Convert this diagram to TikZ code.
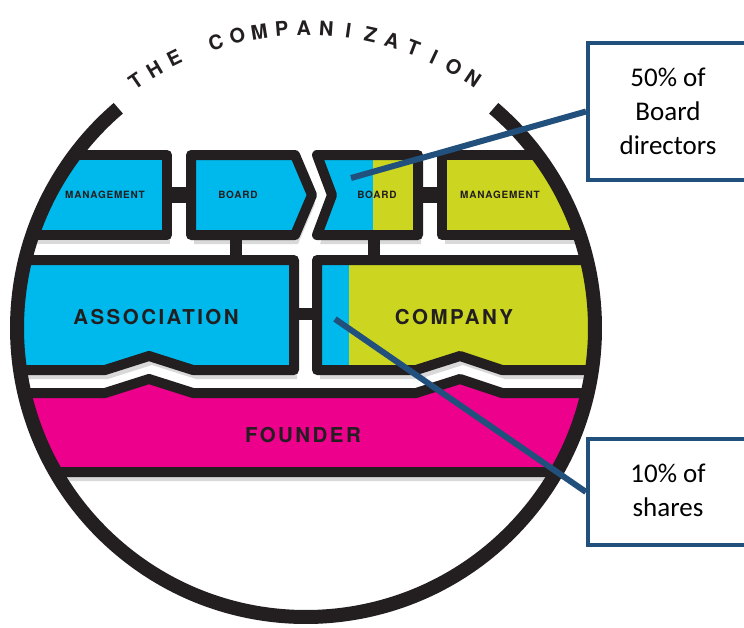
\documentclass[tikz,border=0pt]{standalone}
\usepackage{fontspec}
\usepackage{tikz}
\usetikzlibrary{positioning,shadows}
\usepackage{xcolor}
\newfontfamily\labelfont[LetterSpace=12]{TeX Gyre Heros}
\newfontfamily\smallfont[LetterSpace=8]{TeX Gyre Heros}
\newfontfamily\calloutfont{Carlito}
\definecolor{cpcyan}{RGB}{0,185,236}
\definecolor{cplime}{RGB}{204,214,32}
\definecolor{cpmagenta}{RGB}{236,0,140}
\definecolor{cpblack}{RGB}{35,31,32}
\definecolor{cpnavy}{RGB}{34,80,124}

\begin{document}
\begin{tikzpicture}[x=1pt,y=-1pt,
    part/.style={draw=cpblack,line width=10pt,line join=round,
      drop shadow={shadow xshift=3pt,shadow yshift=-9pt,opacity=.3}},
    big/.style={font=\labelfont\bfseries\fontsize{20.5}{24}\selectfont,text=cpblack},
    small/.style={font=\smallfont\bfseries\fontsize{10}{12}\selectfont,text=cpblack},
    title/.style={font=\labelfont\bfseries\fontsize{20}{24}\selectfont,text=cpblack},
    callout/.style={draw=cpnavy,line width=4pt,fill=white,minimum width=200pt,anchor=west},
    note/.style={font=\calloutfont\fontsize{27}{34}\selectfont,align=center},
    pointer/.style={draw=cpnavy,line width=6pt}]
  \useasboundingbox (0,0) rectangle (744,627);
  \coordinate (ctr) at (306,328);

  \begin{scope}
    \clip (ctr) circle[radius=289];
    \path[part,fill=cpcyan] (-10,155) -- (167,155) -- (167,235) -- (-10,235) -- cycle;
    \path[part,fill=cpcyan] (191,155) -- (295,155) -- (312,195) -- (295,235) -- (191,235) -- cycle;
    \path[part,fill=cplime,path picture={\fill[cpcyan] (path picture bounding box.north west) rectangle (373,250);}]
      (317,155) -- (418,155) -- (418,235) -- (317,235) -- (332,195) -- cycle;
    \path[part,fill=cplime] (442,155) -- (620,155) -- (620,235) -- (442,235) -- cycle;
    \path[part,fill=cpcyan] (-10,260) -- (294,260) -- (294,370) -- (193,370) -- (149,356)
      -- (105,370) -- (-10,370) -- cycle;
    \path[part,fill=cplime,path picture={\fill[cpcyan] (path picture bounding box.north west) rectangle (349,380);}]
      (317,260) -- (620,260) -- (620,370) -- (502,370) -- (460,356) -- (416,370) -- (317,370) -- cycle;
    \path[part,fill=cpmagenta] (-10,393) -- (105,393) -- (149,379) -- (193,393) -- (416,393)
      -- (460,379) -- (502,393) -- (620,393) -- (620,472) -- (-10,472) -- cycle;
    \fill[cpblack] (167,187) rectangle (191,203);
    \fill[cpblack] (418,187) rectangle (442,203);
    \fill[cpblack] (294,308) rectangle (317,320);
    \fill[cpblack] (230,235) rectangle (242,260);
    \fill[cpblack] (368,235) rectangle (380,260);
  \end{scope}
  \draw[cpblack,line width=14pt] ([shift={(-49.5:289)}]ctr) arc[start angle=-49.5,end angle=229.5,radius=289];

  \foreach \ch [count=\i] in {T,H,E,{},C,O,M,P,A,N,I,Z,A,T,I,O,N}{
    \pgfmathsetmacro\ang{-124.6+4.275*(\i-1)}
    \node[title,rotate={-90-(\ang)}] (t\i) at ([shift={(\ang:300)}]ctr) {\ch};
  }

  \node[small] (mgmtA) at (105,195) {MANAGEMENT};
  \node[small] (boardA) at (238,195) {BOARD};
  \node[small] (boardB) at (377,195) {BOARD};
  \node[small] (mgmtB) at (500,195) {MANAGEMENT};
  \node[big] (assoc) at (156,317) {ASSOCIATION};
  \node[big] (comp) at (454,317) {COMPANY};
  \node[big] (found) at (303,435) {FOUNDER};

  \node[callout,minimum height=137pt] (dirbox) at (586,111.5) {};
  \node[note] (dirtext) at (668,111) {50\% of\\Board\\directors};
  \node[callout,minimum height=106pt] (sharebox) at (586,492) {};
  \node[note] (sharetext) at (668,490) {10\% of\\shares};
  \coordinate (dirtip) at (351,178);
  \coordinate (sharetip) at (335,319);
  \draw[pointer] (dirtip) -- (dirbox.west);
  \draw[pointer] (sharetip) -- (sharebox.west);
\end{tikzpicture}
\end{document}
